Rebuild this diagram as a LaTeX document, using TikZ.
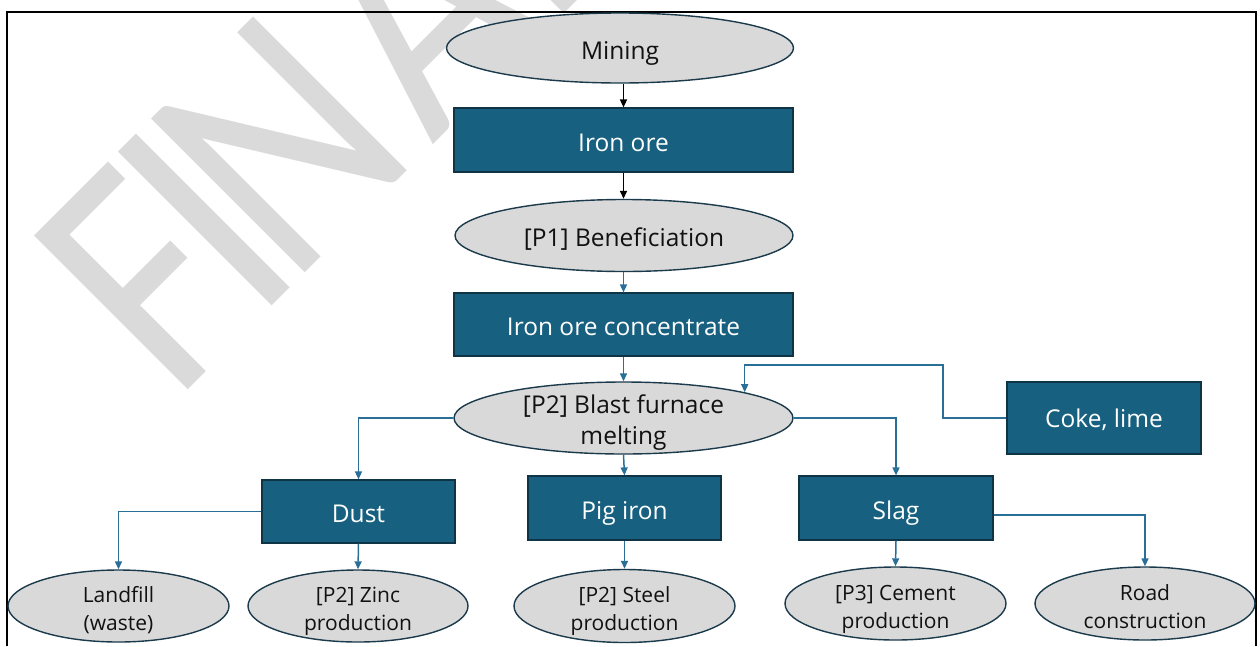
\documentclass[tikz,border=0pt]{standalone}
\usepackage{fontspec}
\setmainfont{Open Sans}
\newfontfamily\wmfont{Carlito}
\usetikzlibrary{arrows.meta,shapes.geometric}
\definecolor{boxblue}{HTML}{17607F}
\definecolor{boxedge}{HTML}{0E3446}
\definecolor{ovalfill}{HTML}{D9D9D9}
\definecolor{ovaledge}{HTML}{1B3A4B}
\definecolor{linkblue}{HTML}{2A6F98}
\definecolor{inkdark}{HTML}{111111}
\definecolor{wmgray}{HTML}{DADADA}
% invisible rules that fix the first-line height and last-line depth
\newcommand\mytopstrut[1]{\rule{0pt}{#1}}
\newcommand\mybotstrut[1]{\rule[-#1]{0pt}{#1}}
\begin{document}
\begin{tikzpicture}[x=1pt,y=-1pt,
  box/.style={rectangle, fill=boxblue, draw=boxedge, line width=1.2pt,
    text=white, inner sep=0pt, text height=22pt, text depth=0pt,
    font=\fontsize{24.5}{31}\selectfont},
  oval/.style={ellipse, fill=ovalfill, draw=ovaledge, line width=1.4pt,
    text=inkdark, inner xsep=0pt, inner ysep=-10pt, align=center},
  oneline/.style={text height=22pt, text depth=0pt},
  bigtext/.style={font=\fontsize{24.5}{31}\selectfont},
  smalltext/.style={font=\fontsize{21}{28}\selectfont},
  tip/.style={-{Triangle[length=8pt,width=7pt]}},
  link/.style={draw=linkblue, line width=1.5pt, tip},
  blacklink/.style={draw=black, line width=1.5pt, tip}
]
\useasboundingbox (0,0) rectangle (1260,646);
\clip (0,0) rectangle (1260,646);

% watermark
\node[rotate=45, anchor=base west, text=wmgray, inner sep=0pt,
  font=\wmfont\fontsize{339}{339}\selectfont] (wm) at (174,404)
  {\scalebox{0.85}[1]{F\kern-21pt I\kern-27pt N\kern18pt AL}};

% frame
\draw[line width=2pt] (7,646) -- (7,12) -- (1256,12) -- (1256,646);

% main column
\node[oval, oneline, bigtext, minimum width=347pt, minimum height=70pt] (mining) at (620,48) {Mining};
\node[box, minimum width=339pt, minimum height=64pt] (iron) at (623.5,140) {Iron ore};
\node[oval, oneline, bigtext, minimum width=338pt, minimum height=72pt] (benef) at (624,235.5) {[P1] Beneficiation};
\node[box, minimum width=339pt, minimum height=63pt] (conc) at (623.5,324.5) {Iron ore concentrate};
\node[oval, bigtext, minimum width=339pt, minimum height=72pt] (blast) at (623.5,418)
  {\mytopstrut{28pt}[P2] Blast furnace\\melting\mybotstrut{7pt}};
\node[box, text height=18pt, minimum width=194pt, minimum height=72pt] (coke) at (1104,418) {Coke, lime};

% products
\node[box, minimum width=193pt, minimum height=63pt] (dust) at (358.5,511.5) {Dust};
\node[box, minimum width=193pt, minimum height=64pt] (pig) at (624.5,508) {Pig iron};
\node[box, minimum width=194pt, minimum height=64pt] (slag) at (896,508) {Slag};

% uses
\node[oval, smalltext, minimum width=221pt, minimum height=72pt] (landfill) at (118.5,606)
  {\mytopstrut{27pt}Landfill\\(waste)\mybotstrut{6pt}};
\node[oval, smalltext, minimum width=220pt, minimum height=72pt] (zinc) at (358,606)
  {\mytopstrut{27pt}[P2] Zinc\\production\mybotstrut{6pt}};
\node[oval, smalltext, minimum width=221pt, minimum height=73pt] (steel) at (624.5,606)
  {\mytopstrut{27pt}[P2] Steel\\production\mybotstrut{6pt}};
\node[oval, smalltext, minimum width=221pt, minimum height=73pt] (cement) at (895.5,603.5)
  {\mytopstrut{27pt}[P3] Cement\\production\mybotstrut{6pt}};
\node[oval, smalltext, minimum width=220pt, minimum height=73pt] (road) at (1145,603.5)
  {\mytopstrut{27pt}Road\\construction\mybotstrut{6pt}};

% connectors
\draw[blacklink] (mining.south -| iron.north) -- (iron.north);
\draw[blacklink] (iron.south) -- (benef.north -| iron.south);
\draw[link] (benef.south -| conc.north) -- (conc.north);
\draw[link] (conc.south) -- (blast.north);
\coordinate (cokebend) at (943,365);
\draw[link] (coke.west) -| (cokebend) -- (blast.12 |- cokebend) -- (blast.12);
\draw[link] (blast.west) -| (dust.north);
\draw[link] (blast.south) -- (pig.north);
\draw[link] (blast.east) -| (slag.north);
\draw[link] (dust.west) -| (landfill.north);
\draw[link] (dust.south) -- (zinc.north);
\draw[link] (pig.south) -- (steel.north);
\draw[link] (slag.south) -- (cement.north);
\draw[link] ([yshift=-7pt]slag.east) -| (road.north);
\end{tikzpicture}
\end{document}
